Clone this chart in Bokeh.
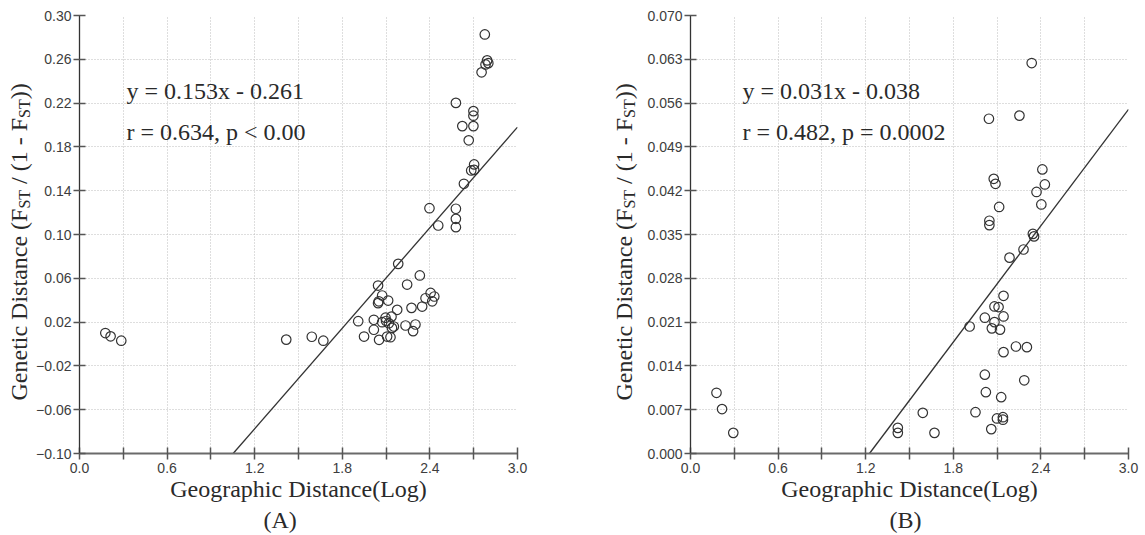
from math import pi
from bokeh.plotting import figure
from bokeh.models import FixedTicker, Label, Range1d, Title
from bokeh.layouts import row
from bokeh.embed import file_html
from bokeh.resources import INLINE

# ---------------- data ----------------
# Panel A: genetic distance vs log geographic distance
a_x = [0.177, 0.213, 0.286,
       1.416, 1.591, 1.670,
       1.909, 1.949, 2.016, 2.016, 2.045, 2.045, 2.050, 2.052, 2.073, 2.073,
       2.096, 2.107, 2.114, 2.100, 2.119, 2.137, 2.130, 2.140, 2.153, 2.176,
       2.183, 2.233, 2.244, 2.274, 2.285, 2.301, 2.331, 2.347, 2.370, 2.397,
       2.405, 2.416, 2.430, 2.457,
       2.578, 2.578, 2.578, 2.578, 2.622, 2.633, 2.666, 2.698, 2.698, 2.698,
       2.703, 2.703, 2.683, 2.754, 2.776, 2.792, 2.800, 2.781]
a_y = [0.010, 0.007, 0.003,
       0.004, 0.0066, 0.003,
       0.0208, 0.0068, 0.0221, 0.0130, 0.0534, 0.0373, 0.0390, 0.0038, 0.0443, 0.0199,
       0.0240, 0.0068, 0.0397, 0.0210, 0.0190, 0.0250, 0.0062, 0.0147, 0.0160, 0.0312,
       0.0732, 0.0169, 0.0543, 0.0330, 0.0117, 0.0178, 0.0626, 0.0342, 0.0418, 0.1240,
       0.0466, 0.0390, 0.0434, 0.1082,
       0.2202, 0.1235, 0.1143, 0.1067, 0.1990, 0.1463, 0.1860, 0.2127, 0.2085, 0.1990,
       0.1640, 0.1590, 0.1585, 0.2481, 0.2827, 0.2590, 0.2565, 0.2553]

# Panel B
b_x = [0.178, 0.216, 0.293,
       1.420, 1.420, 1.591, 1.671,
       1.912, 1.952, 2.016, 2.016, 2.023, 2.044, 2.047, 2.047, 2.060, 2.064,
       2.077, 2.089, 2.082, 2.082, 2.110, 2.099, 2.114, 2.120, 2.128, 2.140,
       2.140, 2.144, 2.144, 2.144, 2.185, 2.229, 2.253, 2.281, 2.286, 2.304,
       2.337, 2.345, 2.353, 2.370, 2.410, 2.403, 2.427]
b_y = [0.0097, 0.0071, 0.0033,
       0.0041, 0.0033, 0.0065, 0.0033,
       0.0203, 0.0066, 0.0217, 0.0126, 0.0098, 0.0535, 0.0372, 0.0365, 0.0039, 0.0200,
       0.0439, 0.0431, 0.0210, 0.0235, 0.0234, 0.0056, 0.0394, 0.0198, 0.0090, 0.0058,
       0.0054, 0.0252, 0.0219, 0.0162, 0.0313, 0.0171, 0.0540, 0.0326, 0.0117, 0.0170,
       0.0624, 0.0351, 0.0347, 0.0418, 0.0454, 0.0398, 0.0430]

a_slope, a_intercept = 0.153, -0.261
b_slope, b_intercept = 0.031, -0.038
a_texts = ["y = 0.153x - 0.261", "r = 0.634, p < 0.00"]
b_texts = ["y = 0.031x - 0.038", "r = 0.482, p = 0.0002"]
panel_tags = ["(A)", "(B)"]
x_title = "Geographic Distance(Log)"
y_title_pieces = ["Genetic Distance (F", "ST", "/ (1 - F", "ST", "))"]

x_range_ab = (0.0, 3.0)
x_major_ticks = [0.0, 0.6, 1.2, 1.8, 2.4, 3.0]
x_major_labels = ["0.0", "0.6", "1.2", "1.8", "2.4", "3.0"]
x_minor_ticks = [0.3, 0.9, 1.5, 2.1, 2.7]

a_y_range = (-0.10, 0.30)
a_y_ticks = [-0.10, -0.06, -0.02, 0.02, 0.06, 0.10, 0.14, 0.18, 0.22, 0.26, 0.30]
a_y_labels = ["\u22120.10", "\u22120.06", "\u22120.02", "0.02", "0.06", "0.10",
              "0.14", "0.18", "0.22", "0.26", "0.30"]
b_y_range = (0.0, 0.07)
b_y_ticks = [0.0, 0.007, 0.014, 0.021, 0.028, 0.035, 0.042, 0.049, 0.056, 0.063, 0.07]
b_y_labels = ["0.000", "0.007", "0.014", "0.021", "0.028", "0.035", "0.042",
              "0.049", "0.056", "0.063", "0.070"]

# ---------------- styling ----------------
SERIF = "Liberation Serif"
SANS = "Liberation Sans"
FRAME = 438
TOTAL_H = 535
TOP = 15
INK = "#2a2a2a"
GRID = "#bcbcbc"

# Times-compatible advance widths (em) used to chain the rotated title pieces
TNR = {'G': 0.722, 'e': 0.444, 'n': 0.5, 't': 0.278, 'i': 0.278, 'c': 0.444,
       ' ': 0.25, 'D': 0.722, 's': 0.389, 'a': 0.444, '(': 0.333, 'F': 0.556,
       '/': 0.278, '1': 0.5, '-': 0.333, ')': 0.333, 'S': 0.556, 'T': 0.611}


def tw(s, size):
    return sum(TNR[c] for c in s) * size


def title_strip(width, mid_x):
    """Narrow figure that carries the rotated y-axis title (with subscripts)."""
    t = figure(frame_width=width, frame_height=TOTAL_H, min_border=0,
               x_range=Range1d(0, 1), y_range=Range1d(0, 1),
               x_axis_type=None, y_axis_type=None,
               output_backend="svg", toolbar_location=None)
    t.outline_line_color = None
    t.xgrid.visible = False
    t.ygrid.visible = False
    sizes = [24, 16, 24, 16, 24]
    shifts = [0, 6, 0, 6, 0]
    leads = [0.0, 0.0, 0.25, 0.0, 0.0]
    y = 150
    for txt, size, shift, lead in zip(y_title_pieces, sizes, shifts, leads):
        y += lead * 24
        t.add_layout(Label(x=mid_x + shift, y=y, x_units="screen", y_units="screen",
                           text=txt, angle=pi / 2, text_font=SERIF,
                           text_font_size=f"{size}px", text_align="left",
                           text_baseline="middle", text_color=INK))
        y += tw(txt, size)
    return t


def make_panel(xs, ys, slope, intercept, yr, yticks, ylabels, texts, tag,
               left, right, text_x, tag_left):
    p = figure(frame_width=FRAME, frame_height=FRAME,
               min_border_left=left, min_border_right=right,
               min_border_top=TOP, min_border_bottom=TOTAL_H - TOP - FRAME,
               x_range=Range1d(*x_range_ab), y_range=Range1d(*yr),
               output_backend="svg", toolbar_location=None,
               background_fill_color="white", border_fill_color="white")
    p.outline_line_color = None

    # axes
    p.xaxis.ticker = FixedTicker(ticks=x_major_ticks, minor_ticks=x_minor_ticks)
    p.xaxis.major_label_overrides = dict(zip(x_major_ticks, x_major_labels))
    p.yaxis.ticker = FixedTicker(ticks=yticks)
    p.yaxis.major_label_overrides = dict(zip(yticks, ylabels))
    for ax in (p.xaxis[0], p.yaxis[0]):
        ax.major_tick_in = 6
        ax.major_tick_out = 6
        ax.minor_tick_in = 6
        ax.minor_tick_out = 6
        ax.major_tick_line_color = "#555555"
        ax.minor_tick_line_color = "#555555"
        ax.major_tick_line_width = 1.5
        ax.minor_tick_line_width = 1.5
        ax.major_label_text_font = SANS
        ax.major_label_text_font_size = "14px"
        ax.major_label_text_color = "#3d3d3d"
    p.xaxis.axis_line_color = "#6a6a6a"
    p.xaxis.axis_line_width = 2
    p.yaxis.axis_line_color = "#333333"
    p.yaxis.axis_line_width = 1.3
    p.xaxis.major_label_standoff = 3
    p.yaxis.major_label_standoff = 2

    p.xaxis.axis_label = x_title
    p.xaxis.axis_label_text_font = SERIF
    p.xaxis.axis_label_text_font_size = "24px"
    p.xaxis.axis_label_text_font_style = "normal"
    p.xaxis.axis_label_text_color = INK
    p.xaxis.axis_label_standoff = 0

    p.add_layout(Title(text=tag, align="left", offset=tag_left, standoff=0,
                       text_font=SERIF, text_font_size="24px",
                       text_font_style="normal", text_color=INK), "below")

    # grid
    for g in (p.xgrid[0], p.ygrid[0]):
        g.grid_line_color = GRID
        g.grid_line_dash = "1 2"
        g.grid_line_width = 1
    p.xgrid.minor_grid_line_color = GRID
    p.xgrid.minor_grid_line_dash = "1 2"
    p.xgrid.minor_grid_line_width = 1
    p.xgrid.ticker = p.xaxis[0].ticker
    p.ygrid.ticker = p.yaxis[0].ticker

    # regression line from fit coefficients, clipped to the visible range
    x0 = max(x_range_ab[0], (yr[0] - intercept) / slope)
    x1 = x_range_ab[1]
    p.line([x0, x1], [slope * x0 + intercept, slope * x1 + intercept],
           line_color="#333333", line_width=1.3)

    # points
    p.scatter(xs, ys, marker="circle", size=9.5, fill_color=None,
              line_color="#333333", line_width=1.2)

    # equations
    for txt, yy in zip(texts, (363, 322)):
        p.add_layout(Label(x=text_x, y=yy, x_units="screen", y_units="screen",
                           text=txt, text_font=SERIF, text_font_size="24px",
                           text_color=INK, text_baseline="middle"))
    return p


tA = title_strip(33, 18)
pA = make_panel(a_x, a_y, a_slope, a_intercept, a_y_range, a_y_ticks, a_y_labels,
                a_texts, panel_tags[0], left=46, right=92, text_x=47, tag_left=184)
tB = title_strip(35, 14)
pB = make_panel(b_x, b_y, b_slope, b_intercept, b_y_range, b_y_ticks, b_y_labels,
                b_texts, panel_tags[1], left=46, right=17, text_x=52, tag_left=199)

layout = row(tA, pA, tB, pB)
open("out.html", "w").write(file_html(layout, INLINE))
